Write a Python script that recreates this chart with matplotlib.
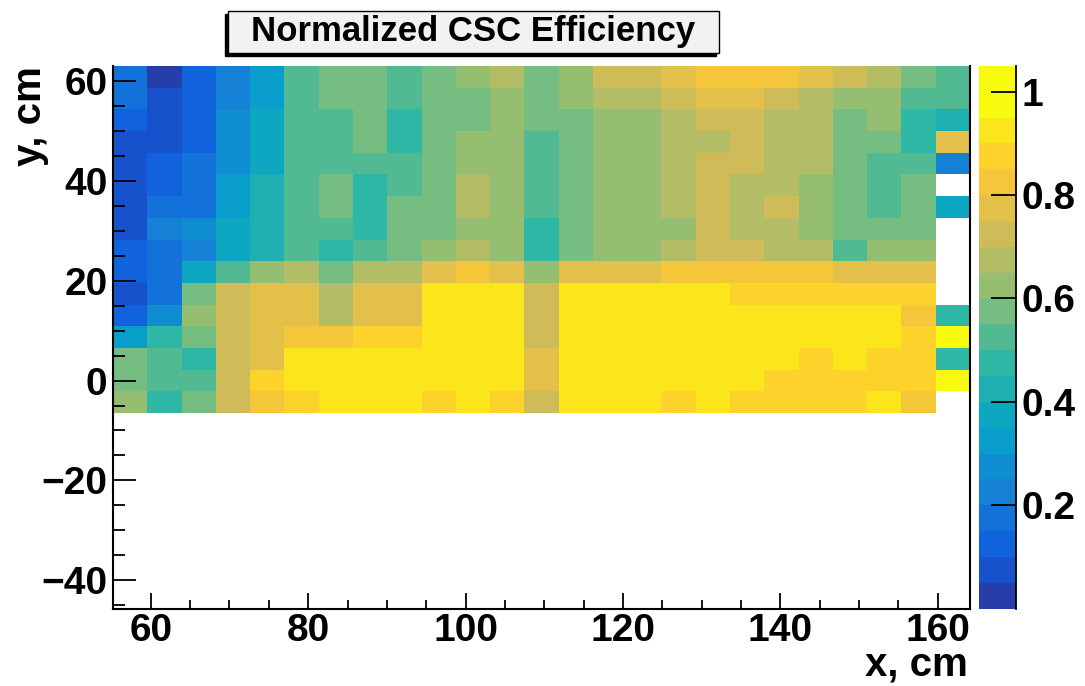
import numpy as np
import matplotlib
matplotlib.use("Agg")
import matplotlib.pyplot as plt
from matplotlib.colors import ListedColormap, BoundaryNorm
from matplotlib.patches import Rectangle

plt.rcParams['font.family'] = ['Liberation Sans', 'DejaVu Sans']
plt.rcParams['font.weight'] = 'bold'

# histogram binning (cm), 25 x 25 bins
x_lo, x_hi = 55.2, 164.1
y_lo, y_hi = -45.7, 63.1
nbins = 25

# efficiency per bin, first row = top row (y ~ 61 cm), going down
# only the upper 16 rows are filled, None = empty bin
eff = [
    [0.17, 0.02, 0.12, 0.22, 0.32, 0.52, 0.57, 0.57, 0.52, 0.57, 0.62, 0.67, 0.57, 0.62, 0.72, 0.72, 0.77, 0.82, 0.82, 0.82, 0.77, 0.72, 0.67, 0.57, 0.52],
    [0.17, 0.07, 0.12, 0.22, 0.32, 0.52, 0.57, 0.57, 0.52, 0.57, 0.57, 0.62, 0.57, 0.62, 0.67, 0.67, 0.72, 0.77, 0.77, 0.72, 0.67, 0.62, 0.62, 0.52, 0.52],
    [0.12, 0.07, 0.12, 0.27, 0.37, 0.52, 0.52, 0.57, 0.47, 0.57, 0.57, 0.62, 0.57, 0.57, 0.62, 0.62, 0.67, 0.72, 0.72, 0.67, 0.67, 0.57, 0.62, 0.47, 0.42],
    [0.07, 0.07, 0.12, 0.27, 0.37, 0.52, 0.52, 0.57, 0.47, 0.57, 0.62, 0.62, 0.52, 0.57, 0.62, 0.62, 0.67, 0.67, 0.72, 0.67, 0.67, 0.57, 0.57, 0.47, 0.77],
    [0.07, 0.12, 0.17, 0.27, 0.37, 0.52, 0.52, 0.52, 0.52, 0.57, 0.62, 0.62, 0.52, 0.57, 0.62, 0.62, 0.67, 0.72, 0.72, 0.67, 0.67, 0.57, 0.52, 0.52, 0.22],
    [0.07, 0.12, 0.17, 0.32, 0.42, 0.52, 0.57, 0.47, 0.52, 0.57, 0.67, 0.62, 0.52, 0.57, 0.62, 0.62, 0.67, 0.72, 0.67, 0.67, 0.62, 0.57, 0.52, 0.57, None],
    [0.07, 0.17, 0.17, 0.32, 0.42, 0.52, 0.57, 0.47, 0.57, 0.57, 0.67, 0.62, 0.52, 0.57, 0.62, 0.62, 0.67, 0.72, 0.67, 0.72, 0.62, 0.57, 0.52, 0.57, 0.37],
    [0.07, 0.22, 0.27, 0.37, 0.42, 0.52, 0.52, 0.47, 0.57, 0.57, 0.62, 0.62, 0.47, 0.57, 0.62, 0.62, 0.62, 0.72, 0.67, 0.67, 0.62, 0.57, 0.57, 0.57, None],
    [0.12, 0.17, 0.22, 0.37, 0.42, 0.52, 0.47, 0.52, 0.57, 0.62, 0.67, 0.62, 0.47, 0.57, 0.62, 0.62, 0.67, 0.72, 0.72, 0.67, 0.67, 0.52, 0.62, 0.62, None],
    [0.12, 0.17, 0.37, 0.52, 0.62, 0.67, 0.57, 0.67, 0.67, 0.77, 0.82, 0.77, 0.62, 0.77, 0.77, 0.77, 0.82, 0.82, 0.82, 0.82, 0.82, 0.77, 0.77, 0.77, None],
    [0.07, 0.17, 0.57, 0.72, 0.77, 0.77, 0.67, 0.77, 0.77, 0.92, 0.92, 0.92, 0.72, 0.92, 0.92, 0.92, 0.92, 0.92, 0.87, 0.87, 0.87, 0.87, 0.87, 0.87, None],
    [0.12, 0.27, 0.62, 0.72, 0.77, 0.77, 0.67, 0.77, 0.77, 0.92, 0.92, 0.92, 0.72, 0.92, 0.92, 0.92, 0.92, 0.92, 0.92, 0.92, 0.92, 0.92, 0.92, 0.82, 0.47],
    [0.32, 0.47, 0.57, 0.72, 0.77, 0.82, 0.82, 0.87, 0.87, 0.92, 0.92, 0.92, 0.72, 0.92, 0.92, 0.92, 0.92, 0.92, 0.92, 0.92, 0.92, 0.92, 0.92, 0.87, 0.98],
    [0.57, 0.52, 0.47, 0.72, 0.77, 0.92, 0.92, 0.92, 0.92, 0.92, 0.92, 0.92, 0.77, 0.92, 0.92, 0.92, 0.92, 0.92, 0.92, 0.92, 0.87, 0.92, 0.87, 0.87, 0.47],
    [0.57, 0.52, 0.52, 0.72, 0.87, 0.92, 0.92, 0.92, 0.92, 0.92, 0.92, 0.92, 0.77, 0.92, 0.92, 0.92, 0.92, 0.92, 0.92, 0.87, 0.87, 0.87, 0.87, 0.87, 0.98],
    [0.62, 0.47, 0.57, 0.72, 0.82, 0.87, 0.92, 0.92, 0.92, 0.87, 0.92, 0.87, 0.72, 0.92, 0.92, 0.92, 0.87, 0.92, 0.87, 0.87, 0.87, 0.87, 0.92, 0.82, None],
]

# contour levels of the palette and top of the z axis
levels = [0.0, 0.05, 0.1, 0.15, 0.2, 0.25, 0.3, 0.35, 0.4, 0.45, 0.5,
          0.55, 0.6, 0.65, 0.7, 0.75, 0.8, 0.85, 0.9, 0.95, 1.0]
z_max = 1.05
z_ticks = [0.2, 0.4, 0.6, 0.8, 1.0]


def bird(f):
    # ROOT kBird palette
    stops = [0.0, 0.125, 0.25, 0.375, 0.5, 0.625, 0.75, 0.875, 1.0]
    red = [0.2082, 0.0592, 0.0780, 0.0232, 0.1802, 0.5301, 0.8186, 0.9956, 0.9764]
    green = [0.1664, 0.3599, 0.5041, 0.6419, 0.7178, 0.7492, 0.7328, 0.7862, 0.9832]
    blue = [0.5293, 0.8684, 0.8385, 0.7914, 0.6425, 0.4662, 0.3499, 0.1968, 0.0539]
    return (np.interp(f, stops, red), np.interp(f, stops, green), np.interp(f, stops, blue))


ncont = len(levels) - 1
colors = [bird(min((i + 0.99) / ncont, 1.0)) for i in range(ncont)]
cmap = ListedColormap(colors)
cmap.set_over(colors[-1])
cmap.set_bad((1, 1, 1, 0))
norm = BoundaryNorm(levels, ncont)

x_edges = np.linspace(x_lo, x_hi, nbins + 1)
y_edges = np.linspace(y_lo, y_hi, nbins + 1)
Z = np.full((nbins, nbins), np.nan)
for r, row in enumerate(eff):
    Z[nbins - 1 - r] = [np.nan if v is None else v for v in row]
Z = np.ma.masked_invalid(Z)

fs_lab = 28
fs_title = 29

fig = plt.figure(figsize=(10.85, 6.86), dpi=100)
ax = fig.add_axes([113 / 1085, 1 - 608.5 / 686, (970 - 113) / 1085, (608.5 - 66) / 686])
ax.pcolormesh(x_edges, y_edges, Z, cmap=cmap, norm=norm)
ax.set_xlim(x_lo, x_hi)
ax.set_ylim(y_lo, y_hi)

ax.set_xticks([60, 80, 100, 120, 140, 160])
ax.set_xticks(np.arange(60, 164, 5), minor=True)
ax.set_yticks([-40, -20, 0, 20, 40, 60])
ax.set_yticks(np.arange(-45, 63, 5), minor=True)
ax.tick_params(axis='x', which='major', direction='in', length=11.5, width=1.3, labelsize=fs_lab, pad=3)
ax.tick_params(axis='x', which='minor', direction='in', length=6.3, width=1.3)
ax.tick_params(axis='y', which='major', direction='in', length=16.5, width=1.3, labelsize=fs_lab, pad=4)
ax.tick_params(axis='y', which='minor', direction='in', length=8.5, width=1.3)
for s in ['left', 'bottom', 'right']:
    ax.spines[s].set_linewidth(1.5)
ax.spines['top'].set_visible(False)
for lab in ax.get_xticklabels() + ax.get_yticklabels():
    lab.set_fontweight('bold')

fig.text(968 / 1085, 1 - 675 / 686, 'x, cm', ha='right', va='baseline', fontsize=fs_title, fontweight='bold')
fig.text(30 / 1085, 1 - 66 / 686, 'y, cm', ha='center', va='top', rotation=90, fontsize=fs_title, fontweight='bold')

# palette
cax = fig.add_axes([978.7 / 1085, 1 - 608.5 / 686, (1016 - 978.7) / 1085, (608.5 - 66) / 686])
bar_edges = levels + [z_max]
bar_vals = [(bar_edges[i] + bar_edges[i + 1]) / 2 for i in range(len(bar_edges) - 1)]
cax.pcolormesh([0, 1], bar_edges, np.array(bar_vals).reshape(-1, 1), cmap=cmap, norm=norm)
cax.set_ylim(0, z_max)
cax.set_xlim(0, 1)
cax.set_xticks([])
cax.yaxis.tick_right()
cax.set_yticks(z_ticks)
cax.set_yticklabels(['%g' % t for t in z_ticks])
cax.tick_params(axis='y', direction='in', length=18, width=1.3, labelsize=fs_lab, pad=4)
for lab in cax.get_yticklabels():
    lab.set_fontweight('bold')
for s in ['left', 'top', 'bottom']:
    cax.spines[s].set_visible(False)
cax.spines['right'].set_linewidth(1.3)

# title box with shadow
bx0, bx1, by0, by1 = 228 / 1085, 719 / 1085, 1 - 53 / 686, 1 - 11 / 686
fig.patches.append(Rectangle((bx0 - 3 / 1085, by0 - 3 / 686), bx1 - bx0, by1 - by0,
                             transform=fig.transFigure, facecolor='black', edgecolor='black', zorder=1))
fig.patches.append(Rectangle((bx0, by0), bx1 - bx0, by1 - by0, transform=fig.transFigure,
                             facecolor='#f2f2f2', edgecolor='black', linewidth=1.0, zorder=2))
fig.text((bx0 + bx1) / 2, (by0 + by1) / 2, 'Normalized CSC Efficiency', ha='center', va='center',
         fontsize=25, fontweight='bold', zorder=3)

plt.savefig("out.png", dpi=100)
plt.close()
